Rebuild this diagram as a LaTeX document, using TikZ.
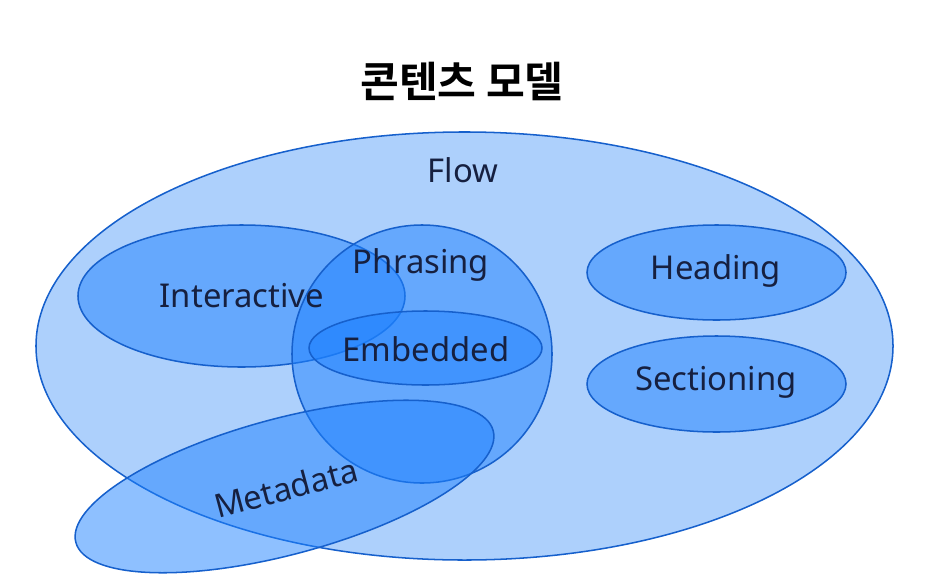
\documentclass[tikz,border=0pt]{standalone}
\usepackage{fontspec}
\setmainfont{Noto Sans}
\newfontfamily\titlefont{Noto Sans CJK KR Bold}
\usetikzlibrary{shapes.geometric}
\definecolor{flowfill}{RGB}{173,208,252}
\definecolor{setfill}{RGB}{30,130,255}
\definecolor{setline}{RGB}{22,96,204}
\definecolor{setink}{RGB}{22,32,64}
\begin{document}
\begin{tikzpicture}
	[x=0.03cm,y=-0.03cm,
	 outerset/.style={ellipse,draw=setline,line width=1.3pt,fill=flowfill,inner sep=0pt},
	 innerset/.style={ellipse,draw=setline,line width=1.3pt,fill=setfill,fill opacity=0.5,draw opacity=1,inner sep=0pt},
	 setname/.style={text=setink,font=\fontsize{28}{32}\selectfont,inner sep=0pt}]
\useasboundingbox (0,0) rectangle (927,586);
% title
\node (title) at (462,81) {\titlefont\fontsize{36}{40}\selectfont 콘텐츠 모델};
% sets
\node[outerset,minimum width=25.71cm,minimum height=12.84cm] (flow) at (464.5,346) {};
\node[innerset,minimum width=9.81cm,minimum height=4.26cm] (interactive) at (241.5,296) {};
\node[innerset,minimum width=7.8cm,minimum height=7.74cm] (phrasing) at (422,354) {};
\node[innerset,minimum width=6.99cm,minimum height=2.22cm] (embedded) at (425.5,348) {};
\node[innerset,minimum width=12.96cm,minimum height=4.08cm,rotate=15] (metadata) at (284.5,486.5) {};
\node[innerset,minimum width=7.77cm,minimum height=2.85cm] (heading) at (716.5,272.5) {};
\node[innerset,minimum width=7.77cm,minimum height=2.88cm] (sectioning) at (716.5,384) {};
% names
\node[setname] (flowname) at (463,170) {Flow};
\node[setname] (phrasingname) at (421,265) {Phrasing};
\node[setname] (interactivename) at (242,296) {Interactive};
\node[setname] (embeddedname) at (426,349) {Embedded};
\node[setname] (headingname) at (716,271) {Heading};
\node[setname] (sectioningname) at (716,382) {Sectioning};
\node[setname,rotate=15] (metadataname) at (286,488) {Metadata};
\end{tikzpicture}
\end{document}
